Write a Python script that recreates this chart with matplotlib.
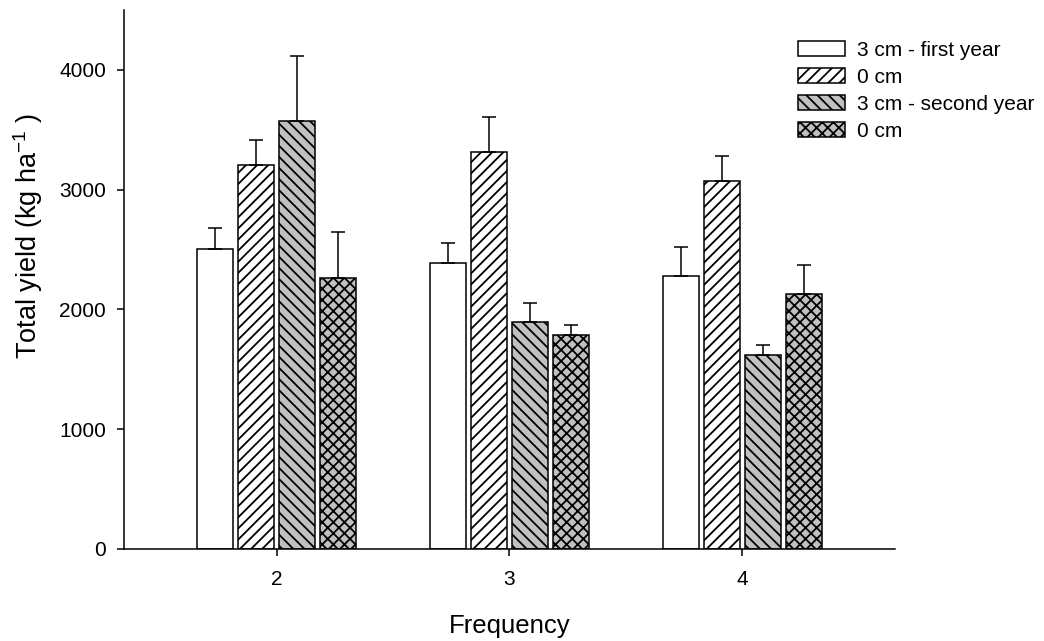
import numpy as np
import matplotlib
matplotlib.use("Agg")
import matplotlib.pyplot as plt

plt.rcParams['font.family'] = ['Liberation Sans', 'DejaVu Sans']
plt.rcParams['mathtext.fontset'] = 'custom'
plt.rcParams['mathtext.rm'] = 'Liberation Sans'
plt.rcParams['mathtext.it'] = 'Liberation Sans'
plt.rcParams['hatch.linewidth'] = 1.3

frequencies = ["2", "3", "4"]
series_labels = ["3 cm - first year", "0 cm", "3 cm - second year", "0 cm"]
first_3cm = [2508, 2386, 2283]
first_0cm = [3208, 3311, 3069]
second_3cm = [3572, 1897, 1622]
second_0cm = [2264, 1789, 2128]
err_first_3cm = [169, 172, 242]
err_first_0cm = [206, 297, 209]
err_second_3cm = [545, 159, 78]
err_second_0cm = [386, 80, 247]

values = [first_3cm, first_0cm, second_3cm, second_0cm]
errors = [err_first_3cm, err_first_0cm, err_second_3cm, err_second_0cm]
fills = ['white', 'white', '#c0c0c0', '#c0c0c0']
hatches = [None, '///', '\\\\\\', 'xxx']

fig = plt.figure(figsize=(10.44, 6.41), dpi=100)
ax = fig.add_axes([0.11877, 0.14353, 0.7385, 0.8409])

x = np.arange(2, 5)
width = 0.158
pitch = 0.176
for i, (vals, errs) in enumerate(zip(values, errors)):
    pos = x + (i - 1.5) * pitch
    ax.bar(pos, vals, width=width, color=fills[i], edgecolor='black',
           linewidth=1.1, hatch=hatches[i], label=series_labels[i],
           yerr=[np.zeros(len(errs)), errs], capsize=5,
           error_kw=dict(ecolor='black', elinewidth=1.1, capthick=1.1))

ax.set_xlim(1.345, 4.655)
ax.set_ylim(0, 4500)
ax.set_xticks(x)
ax.set_xticklabels(frequencies)
ax.set_yticks([0, 1000, 2000, 3000, 4000])
ax.tick_params(axis='both', direction='out', length=5, width=1.1,
               labelsize=15)
ax.tick_params(axis='x', pad=10)
ax.tick_params(axis='y', pad=8)
for s in ['top', 'right']:
    ax.spines[s].set_visible(False)
for s in ['left', 'bottom']:
    ax.spines[s].set_linewidth(1.1)

ax.set_xlabel('Frequency', fontsize=18.5)
ax.xaxis.label.set_va('baseline')
ax.xaxis.set_label_coords(0.5, -0.156)
ax.set_ylabel('Total yield (kg ha$^{-1}$ )', fontsize=19.5)
ax.yaxis.label.set_va('center')
ax.yaxis.set_label_coords(-0.1245, 0.58)

leg = fig.legend(loc='upper left', bbox_to_anchor=(798/1044, 1 - 41/641),
                 frameon=False, fontsize=15, handlelength=2.27,
                 handleheight=0.76, handletextpad=0.57, labelspacing=0.38,
                 borderpad=0, borderaxespad=0)

fig.savefig('out.png', dpi=100)
